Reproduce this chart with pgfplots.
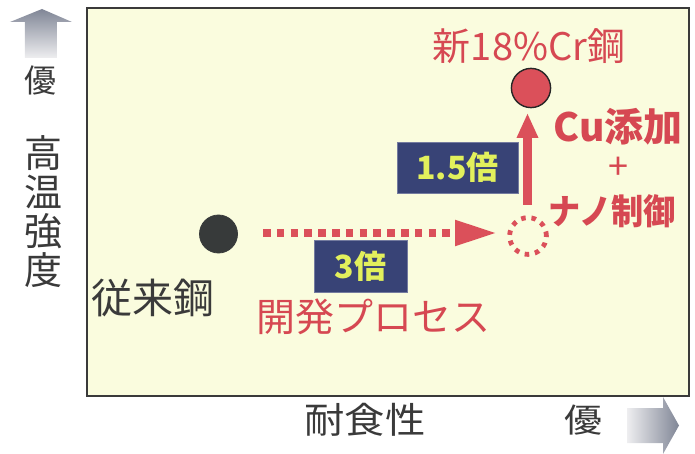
\documentclass[border=0pt]{standalone}
\usepackage{pgfplots}
\pgfplotsset{compat=1.18}
\usetikzlibrary{arrows.meta}
\usepackage{fontspec}
\setmainfont{Noto Sans CJK JP}
\definecolor{bgyellow}{RGB}{250,252,222}
\definecolor{myred}{RGB}{219,80,90}
\definecolor{txtred}{RGB}{214,72,82}
\definecolor{darktxt}{RGB}{58,58,58}
\definecolor{dotgray}{RGB}{55,58,58}
\definecolor{navy}{RGB}{56,67,118}
\definecolor{ylw}{RGB}{226,240,92}
\definecolor{arrdark}{RGB}{128,134,150}
\definecolor{arrlight}{RGB}{238,238,240}
\begin{document}
\begin{tikzpicture}
\begin{axis}[
  x=0.5pt, y=0.5pt,
  xmin=87, xmax=689, ymin=8, ymax=396, y dir=reverse,
  xtick=\empty, ytick=\empty,
  axis line style={draw=darktxt, line width=0.8pt},
  axis background/.style={fill=bgyellow},
  clip=false,
]
% horizontal dotted arrow (development process)
\addplot[myred, line width=4pt, dash pattern=on 3.8pt off 3.1pt,
  -{Triangle[length=21pt,width=12pt]}] coordinates {(263,233) (497,233)};
% vertical arrow
\addplot[myred, line width=4.5pt,
  -{Triangle[length=12.5pt,width=10pt]}] coordinates {(527.5,205) (527.5,113)};
% conventional steel
\addplot[only marks, mark=*, mark size=9.5pt,
  mark options={fill=dotgray, draw=dotgray}] coordinates {(218.5,234)};
% new steel
\addplot[only marks, mark=*, mark size=9.8pt,
  mark options={fill=myred, draw=black!85, line width=0.7pt}] coordinates {(531,88)};
% intermediate (dotted circle)
\addplot[only marks, mark=o, mark size=9.2pt,
  mark options={draw=myred, line width=2.4pt, dash pattern=on 2.3pt off 2.9pt}] coordinates {(528,236)};

% boxes
\node[fill=navy, draw=navy!70!white, line width=0.4pt, minimum width=60.5pt, minimum height=25.5pt, inner sep=0pt,
  text=ylw, font=\fontsize{16}{16}\selectfont\bfseries] at (axis cs:457.5,167.5) {1.5倍};
\node[fill=navy, draw=navy!70!white, line width=0.4pt, minimum width=46.5pt, minimum height=26pt, inner sep=0pt,
  text=ylw, font=\fontsize{16}{16}\selectfont\bfseries] at (axis cs:360.5,266) {3倍};

% labels
\node[text=txtred, font=\fontsize{19}{19}\selectfont] at (axis cs:529,46) {新18\%Cr鋼};
\node[text=txtred, font=\fontsize{19.5}{19.5}\selectfont\bfseries] at (axis cs:618,127) {Cu添加};
\node[text=txtred, font=\fontsize{18}{18}\selectfont] at (axis cs:618,168) {+};
\node[text=txtred, font=\fontsize{17.5}{17.5}\selectfont\bfseries] at (axis cs:612,211) {\scalebox{0.92}[1]{ナノ制御}};
\node[text=txtred, font=\fontsize{19.5}{19.5}\selectfont] at (axis cs:373,317) {開発プロセス};
\node[text=darktxt, font=\fontsize{20.5}{20.5}\selectfont] at (axis cs:153,298) {従来鋼};

% axis titles
\node[text=darktxt, align=center, font=\fontsize{19}{19.5}\selectfont] at (axis cs:44,212) {高\\温\\強\\度};
\node[text=darktxt, font=\fontsize{16}{16}\selectfont] at (axis cs:41,80) {優};
\node[text=darktxt, font=\fontsize{18}{18}\selectfont] at (axis cs:365,420) {\scalebox{1.12}[1]{耐食性}};
\node[text=darktxt, font=\fontsize{16.5}{16.5}\selectfont] at (axis cs:583,420) {\scalebox{1.15}[1]{優}};

% gradient arrows
\shade[top color=arrdark, bottom color=arrlight]
  (axis cs:25,58) -- (axis cs:25,22) -- (axis cs:10,22) -- (axis cs:42,9) -- (axis cs:72,22) -- (axis cs:57,22) -- (axis cs:57,58) -- cycle;
\shade[left color=arrlight, right color=arrdark]
  (axis cs:627,408) -- (axis cs:663,408) -- (axis cs:663,397) -- (axis cs:679,425.5) -- (axis cs:663,454) -- (axis cs:663,443) -- (axis cs:627,443) -- cycle;

\coordinate (BL) at (axis cs:0,454);
\coordinate (TR) at (axis cs:695,0);
\end{axis}
\path[use as bounding box] (BL) rectangle (TR);
\end{tikzpicture}
\end{document}
